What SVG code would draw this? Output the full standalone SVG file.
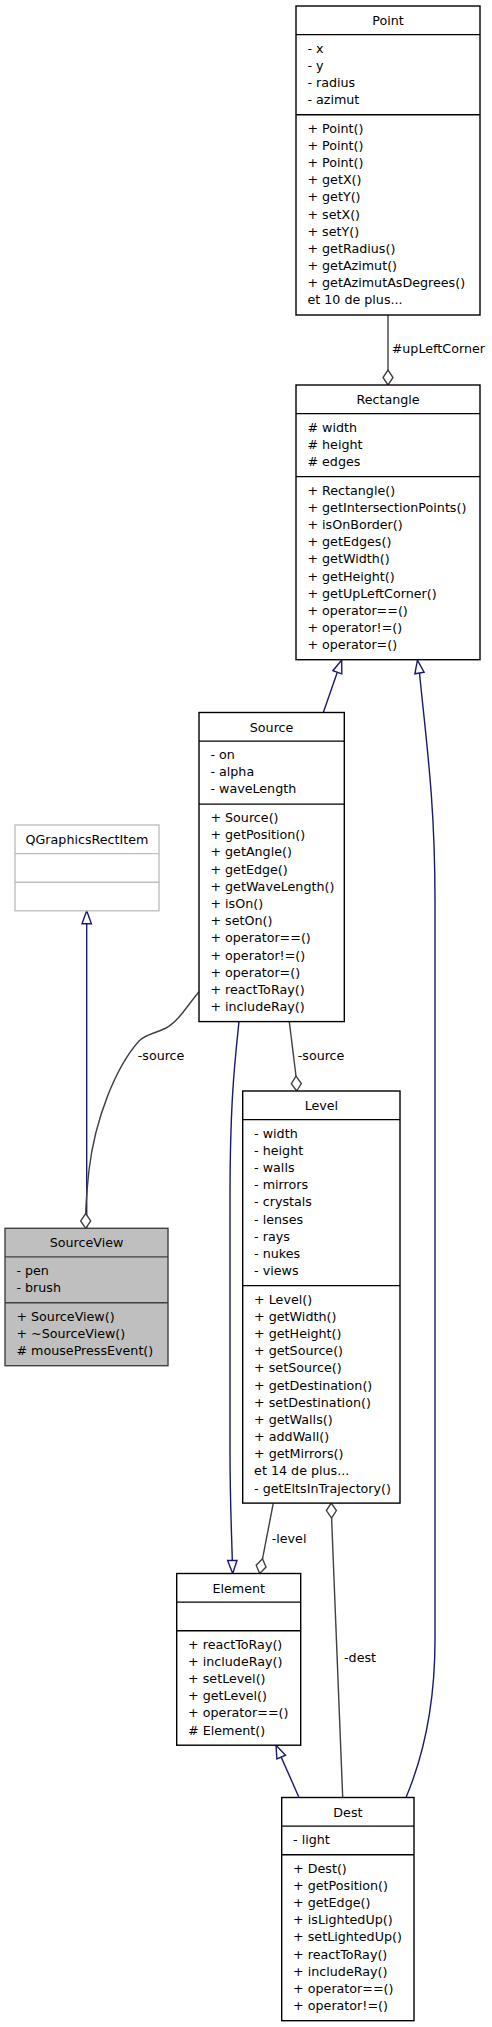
<svg xmlns="http://www.w3.org/2000/svg" width="492" height="2027" viewBox="0 0 492 2027">
<style>
.bg{fill:#fff}
.box{fill:#fff;stroke:#000;stroke-width:1.4}
.ext{fill:#fff;stroke:#bfbfbf;stroke-width:1.4}
.sel{fill:#bfbfbf;stroke:#404040;stroke-width:1.4}
.sep{stroke:#000;stroke-width:1.4}
.sepx{stroke:#bfbfbf;stroke-width:1.4}
.seps{stroke:#404040;stroke-width:1.4}
text{font-family:"DejaVu Sans","Liberation Sans",sans-serif;font-size:12.7px;fill:#000}
.c{text-anchor:middle}
.inh{stroke:#191970;fill:none;stroke-width:1.4}
.agg{stroke:#404040;fill:none;stroke-width:1.4}
.ah{fill:#fff;stroke:#191970;stroke-width:1.4}
.dm{fill:#fff;stroke:#404040;stroke-width:1.4}
</style>
<rect class="bg" x="0" y="0" width="492" height="2027"/>
<g id="connectors">
<path class="agg" d="M388,315 L388,370"/>
<polygon class="dm" points="388,385 383,377.5 388,370 393,377.5"/>
<text x="391.7" y="353.3">#upLeftCorner</text>
<path class="inh" d="M323.3,712.5 L337.3,672.3"/>
<polygon class="ah" points="341.7,660 341.8,673.8 332.9,670.7"/>
<path class="inh" d="M406,1797.5 C426,1750 435,1700 435,1640 L435,900 C435,800 426,740 419.5,673"/>
<polygon class="ah" points="417.4,660.2 424.1,672.2 414.9,673.8"/>
<path class="inh" d="M239,1021.6 C235,1060 230,1100 230,1200 L230,1450 C230,1500 231.5,1530 232.3,1560.5"/>
<polygon class="ah" points="232.7,1573.5 237,1560.5 227.6,1560.5"/>
<path class="inh" d="M299,1797.5 L281.2,1757.1"/>
<polygon class="ah" points="276,1745.2 285.5,1755.2 276.9,1759"/>
<path class="inh" d="M86.7,1228.3 L86.7,923.8"/>
<polygon class="ah" points="86.7,910.8 91.4,923.8 82,923.8"/>
<path class="agg" d="M289.3,1021.6 L296,1076.2"/>
<polygon class="dm" points="296.7,1091 301.35,1083.6 296,1076.2 291.35,1083.6"/>
<text x="297.7" y="1060">-source</text>
<path class="agg" d="M199,991.7 C187,1006 178,1022 166,1028 C154,1034 146,1034 139,1041 C115,1068 95,1120 89,1170 C87,1190 86,1200 85.7,1213.5"/>
<polygon class="dm" points="85.7,1228.3 80.7,1220.9 85.7,1213.5 90.7,1220.9"/>
<text x="137.7" y="1060">-source</text>
<path class="agg" d="M273.3,1503.1 L262.5,1558.8"/>
<polygon class="dm" points="259.7,1573.5 256.2,1565.2 262.5,1558.8 266,1567"/>
<text x="271.7" y="1542.5">-level</text>
<path class="agg" d="M342.7,1797.5 L331.6,1518.1"/>
<polygon class="dm" points="331.2,1503.1 336.4,1510.6 331.6,1518.1 326.4,1510.6"/>
<text x="344" y="1661.7">-dest</text>
</g>
<g id="Point">
<rect class="box" x="296" y="6" width="184" height="309"/>
<line class="sep" x1="296" y1="34.6" x2="480" y2="34.6"/>
<line class="sep" x1="296" y1="114.7" x2="480" y2="114.7"/>
<text class="c" x="388" y="25">Point</text>
<text x="307.4" y="52.6">- x</text>
<text x="307.4" y="69.8">- y</text>
<text x="307.4" y="86.9">- radius</text>
<text x="307.4" y="104.1">- azimut</text>
<text x="307.4" y="132.7">+ Point()</text>
<text x="307.4" y="149.9">+ Point()</text>
<text x="307.4" y="167">+ Point()</text>
<text x="307.4" y="184.2">+ getX()</text>
<text x="307.4" y="201.4">+ getY()</text>
<text x="307.4" y="218.6">+ setX()</text>
<text x="307.4" y="235.7">+ setY()</text>
<text x="307.4" y="252.9">+ getRadius()</text>
<text x="307.4" y="270.1">+ getAzimut()</text>
<text x="307.4" y="287.2">+ getAzimutAsDegrees()</text>
<text x="307.4" y="304.4">et 10 de plus...</text>
</g>
<g id="Rectangle">
<rect class="box" x="296" y="385" width="184" height="274.7"/>
<line class="sep" x1="296" y1="413.6" x2="480" y2="413.6"/>
<line class="sep" x1="296" y1="476.6" x2="480" y2="476.6"/>
<text class="c" x="388" y="404">Rectangle</text>
<text x="307.4" y="431.6"># width</text>
<text x="307.4" y="448.8"># height</text>
<text x="307.4" y="465.9"># edges</text>
<text x="307.4" y="494.6">+ Rectangle()</text>
<text x="307.4" y="511.8">+ getIntersectionPoints()</text>
<text x="307.4" y="528.9">+ isOnBorder()</text>
<text x="307.4" y="546.1">+ getEdges()</text>
<text x="307.4" y="563.3">+ getWidth()</text>
<text x="307.4" y="580.5">+ getHeight()</text>
<text x="307.4" y="597.6">+ getUpLeftCorner()</text>
<text x="307.4" y="614.8">+ operator==()</text>
<text x="307.4" y="632">+ operator!=()</text>
<text x="307.4" y="649.1">+ operator=()</text>
</g>
<g id="Source">
<rect class="box" x="199" y="712.5" width="145.3" height="309.1"/>
<line class="sep" x1="199" y1="741.1" x2="344.3" y2="741.1"/>
<line class="sep" x1="199" y1="804.1" x2="344.3" y2="804.1"/>
<text class="c" x="271.6" y="731.5">Source</text>
<text x="210.4" y="759.1">- on</text>
<text x="210.4" y="776.3">- alpha</text>
<text x="210.4" y="793.4">- waveLength</text>
<text x="210.4" y="822.1">+ Source()</text>
<text x="210.4" y="839.3">+ getPosition()</text>
<text x="210.4" y="856.4">+ getAngle()</text>
<text x="210.4" y="873.6">+ getEdge()</text>
<text x="210.4" y="890.8">+ getWaveLength()</text>
<text x="210.4" y="908">+ isOn()</text>
<text x="210.4" y="925.1">+ setOn()</text>
<text x="210.4" y="942.3">+ operator==()</text>
<text x="210.4" y="959.5">+ operator!=()</text>
<text x="210.4" y="976.6">+ operator=()</text>
<text x="210.4" y="993.8">+ reactToRay()</text>
<text x="210.4" y="1011">+ includeRay()</text>
</g>
<g id="QGraphicsRectItem">
<rect class="ext" x="15" y="825" width="144" height="85.8"/>
<line class="sepx" x1="15" y1="853.6" x2="159" y2="853.6"/>
<line class="sepx" x1="15" y1="882.2" x2="159" y2="882.2"/>
<text class="c" x="87" y="844">QGraphicsRectItem</text>
</g>
<g id="SourceView">
<rect class="sel" x="5" y="1228.3" width="163" height="137.4"/>
<line class="seps" x1="5" y1="1256.9" x2="168" y2="1256.9"/>
<line class="seps" x1="5" y1="1302.7" x2="168" y2="1302.7"/>
<text class="c" x="86.5" y="1247.3">SourceView</text>
<text x="16.4" y="1274.9">- pen</text>
<text x="16.4" y="1292.1">- brush</text>
<text x="16.4" y="1320.7">+ SourceView()</text>
<text x="16.4" y="1337.9">+ ~SourceView()</text>
<text x="16.4" y="1355"># mousePressEvent()</text>
</g>
<g id="Level">
<rect class="box" x="242.7" y="1091" width="157.3" height="412.1"/>
<line class="sep" x1="242.7" y1="1119.6" x2="400" y2="1119.6"/>
<line class="sep" x1="242.7" y1="1285.6" x2="400" y2="1285.6"/>
<text class="c" x="321.4" y="1110">Level</text>
<text x="254.1" y="1137.6">- width</text>
<text x="254.1" y="1154.8">- height</text>
<text x="254.1" y="1171.9">- walls</text>
<text x="254.1" y="1189.1">- mirrors</text>
<text x="254.1" y="1206.3">- crystals</text>
<text x="254.1" y="1223.5">- lenses</text>
<text x="254.1" y="1240.6">- rays</text>
<text x="254.1" y="1257.8">- nukes</text>
<text x="254.1" y="1275">- views</text>
<text x="254.1" y="1303.6">+ Level()</text>
<text x="254.1" y="1320.8">+ getWidth()</text>
<text x="254.1" y="1337.9">+ getHeight()</text>
<text x="254.1" y="1355.1">+ getSource()</text>
<text x="254.1" y="1372.3">+ setSource()</text>
<text x="254.1" y="1389.5">+ getDestination()</text>
<text x="254.1" y="1406.6">+ setDestination()</text>
<text x="254.1" y="1423.8">+ getWalls()</text>
<text x="254.1" y="1441">+ addWall()</text>
<text x="254.1" y="1458.1">+ getMirrors()</text>
<text x="254.1" y="1475.3">et 14 de plus...</text>
<text x="254.1" y="1492.5">- getEltsInTrajectory()</text>
</g>
<g id="Element">
<rect class="box" x="176.7" y="1573.5" width="124" height="171.7"/>
<line class="sep" x1="176.7" y1="1602.1" x2="300.7" y2="1602.1"/>
<line class="sep" x1="176.7" y1="1630.7" x2="300.7" y2="1630.7"/>
<text class="c" x="238.7" y="1592.5">Element</text>
<text x="188.1" y="1648.7">+ reactToRay()</text>
<text x="188.1" y="1665.9">+ includeRay()</text>
<text x="188.1" y="1683">+ setLevel()</text>
<text x="188.1" y="1700.2">+ getLevel()</text>
<text x="188.1" y="1717.4">+ operator==()</text>
<text x="188.1" y="1734.6"># Element()</text>
</g>
<g id="Dest">
<rect class="box" x="281.7" y="1797.5" width="132.3" height="223.2"/>
<line class="sep" x1="281.7" y1="1826.1" x2="414" y2="1826.1"/>
<line class="sep" x1="281.7" y1="1854.7" x2="414" y2="1854.7"/>
<text class="c" x="347.9" y="1816.5">Dest</text>
<text x="293.1" y="1844.1">- light</text>
<text x="293.1" y="1872.7">+ Dest()</text>
<text x="293.1" y="1889.9">+ getPosition()</text>
<text x="293.1" y="1907">+ getEdge()</text>
<text x="293.1" y="1924.2">+ isLightedUp()</text>
<text x="293.1" y="1941.4">+ setLightedUp()</text>
<text x="293.1" y="1958.6">+ reactToRay()</text>
<text x="293.1" y="1975.7">+ includeRay()</text>
<text x="293.1" y="1992.9">+ operator==()</text>
<text x="293.1" y="2010.1">+ operator!=()</text>
</g>
</svg>
